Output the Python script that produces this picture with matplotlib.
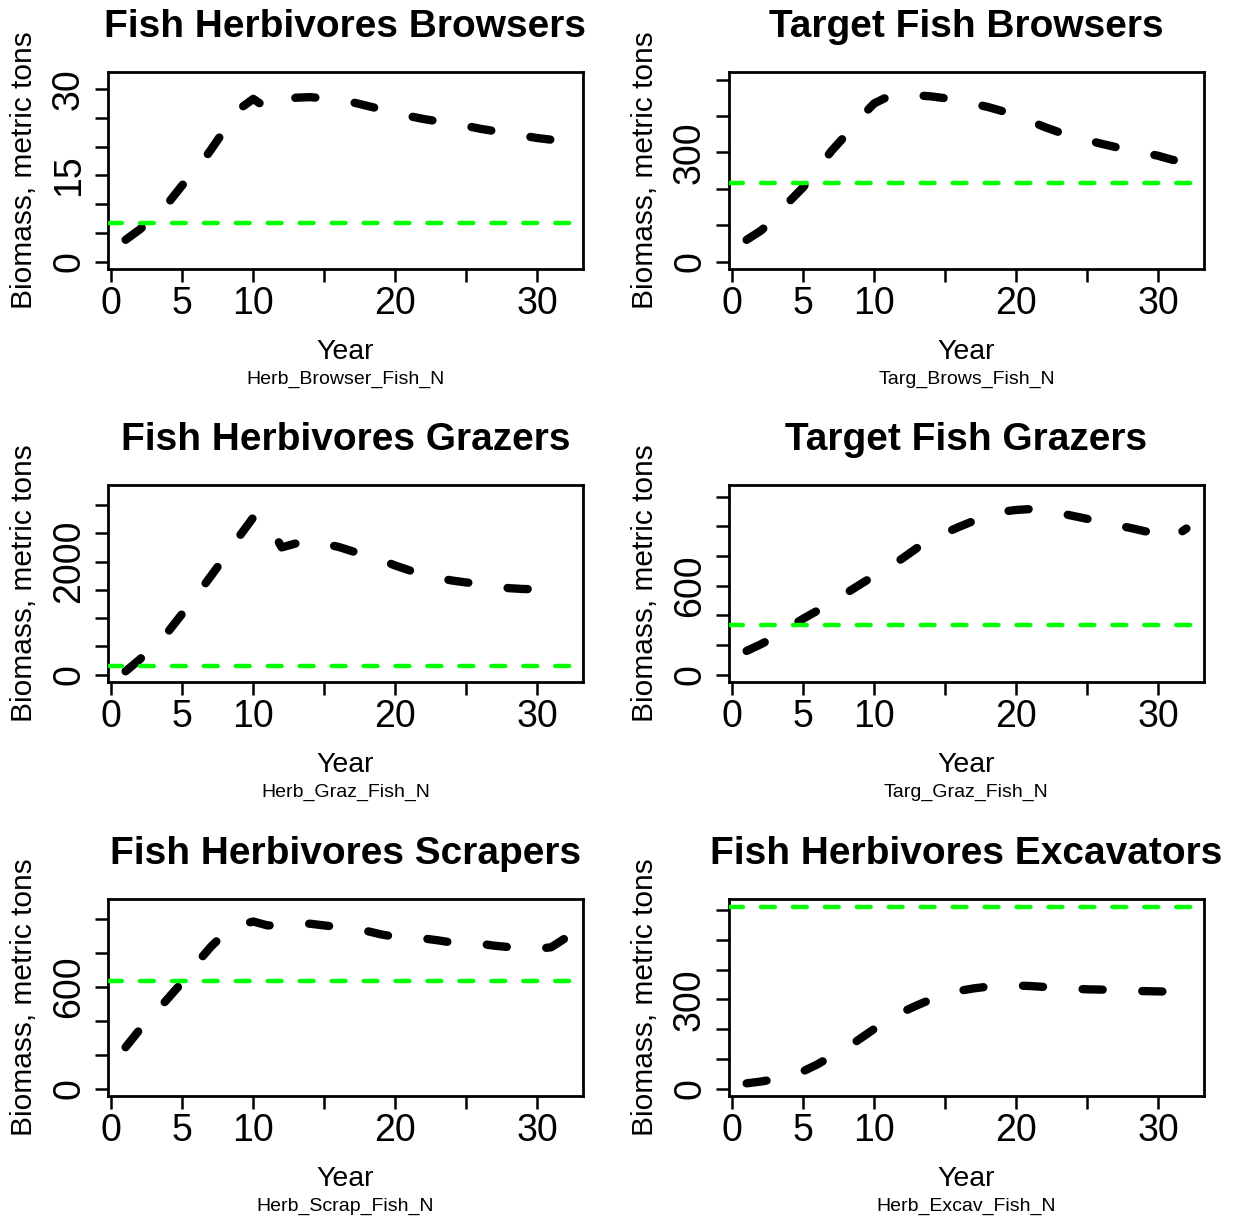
import matplotlib
matplotlib.use("Agg")
import matplotlib.pyplot as plt
import matplotlib.transforms as mtransforms

plt.rcParams['font.family'] = ['Liberation Sans', 'DejaVu Sans']
plt.rcParams['lines.scale_dashes'] = False

# ---------------- data ----------------
years = list(range(1, 33))

herb_browser = [3.8, 5.6, 7.8, 10.2, 13.3, 16.0, 19.4, 23.0, 26.5, 28.3, 26.6, 27.8,
                28.5, 28.6, 28.4, 28.1, 27.7, 27.1, 26.5, 26.0, 25.3, 24.8, 24.4, 24.0,
                23.6, 23.1, 22.7, 22.3, 21.9, 21.5, 21.2, 20.9]
targ_brows = [60, 85, 118, 165, 205, 255, 305, 348, 395, 435, 454, 458, 457, 454, 449, 442,
              434, 425, 414, 400, 386, 370, 356, 344, 334, 324, 315, 307, 299, 291, 280, 272]
herb_graz = [60, 270, 520, 760, 1080, 1400, 1740, 2080, 2440, 2780, 2700, 2250, 2320, 2370,
             2310, 2260, 2180, 2110, 2030, 1930, 1845, 1765, 1710, 1665, 1630, 1605, 1570,
             1530, 1515, 1510, 1460, 1360]
targ_graz = [160, 205, 255, 320, 378, 432, 490, 548, 608, 667, 720, 785, 853, 905, 955, 997,
             1036, 1068, 1098, 1110, 1116, 1105, 1090, 1070, 1050, 1030, 1008, 990, 968, 950,
             920, 985]
herb_scrap = [245, 350, 440, 535, 630, 740, 838, 920, 968, 988, 965, 965, 975, 975, 965, 955,
              945, 932, 912, 898, 893, 888, 877, 864, 860, 857, 845, 837, 832, 826, 836, 890]
herb_excav = [18, 24, 32, 45, 59, 82, 110, 135, 168, 201, 232, 258, 280, 300, 318, 329, 337,
              343, 346, 347, 345, 342, 339, 336, 334, 333, 331, 329, 328, 327, 326, 325]

ref_levels = [6.7, 215, 145, 338, 635, 611]

titles = ["Fish Herbivores Browsers", "Target Fish Browsers",
          "Fish Herbivores Grazers", "Target Fish Grazers",
          "Fish Herbivores Scrapers", "Fish Herbivores Excavators"]
subtitles = ["Herb_Browser_Fish_N", "Targ_Brows_Fish_N",
             "Herb_Graz_Fish_N", "Targ_Graz_Fish_N",
             "Herb_Scrap_Fish_N", "Herb_Excav_Fish_N"]

series = [herb_browser, targ_brows, herb_graz, targ_graz, herb_scrap, herb_excav]

y_ticks = [[0, 5, 10, 15, 20, 25, 30],
           [0, 100, 200, 300, 400, 500],
           [0, 500, 1000, 1500, 2000, 2500, 3000],
           [0, 200, 400, 600, 800, 1000, 1200],
           [0, 200, 400, 600, 800, 1000],
           [0, 100, 200, 300, 400, 500, 600]]
y_labeled = [[0, 15, 30], [0, 300], [0, 2000], [0, 600], [0, 600], [0, 300]]
y_top = [31.7, 501, 3224, 1229, 1078, 613]

x_ticks = [0, 5, 10, 15, 20, 25, 30]
x_labeled = [0, 5, 10, 20, 30]

# ---------------- layout ----------------
W, H = 1234, 1220
DPI = 100
fig = plt.figure(figsize=(W / DPI, H / DPI), dpi=DPI)
fig.patch.set_facecolor('white')

col_left = [108, 729]
ax_w = 475
row_top = [72, 485, 899]
ax_h = 197

def fx(px):
    return px / W

def fy(py):
    return 1 - py / H

for i in range(6):
    r, c = divmod(i, 2)
    left = col_left[c]
    top = row_top[r]
    ax = fig.add_axes([fx(left), fy(top + ax_h), ax_w / W, ax_h / H])

    ax.plot(years, series[i], color='black', linewidth=6.0,
            dashes=(14.5, 28.5), dash_capstyle='round', solid_capstyle='round',
            zorder=2)
    ax.axhline(ref_levels[i], color='#00ff00', linewidth=3.2,
               dashes=(10, 13), dash_capstyle='round', zorder=3)

    ax.set_xlim(1 - 0.04 * 31, 32 + 0.04 * 31)
    ax.set_ylim(-0.04 * y_top[i], 1.04 * y_top[i])

    ax.set_xticks(x_ticks)
    ax.set_xticklabels([str(t) if t in x_labeled else '' for t in x_ticks])
    ax.set_yticks(y_ticks[i])
    ax.set_yticklabels(['' for t in y_ticks[i]])

    ax.tick_params(axis='both', direction='out', length=9.5, width=1.8,
                   labelsize=27, color='black')
    ax.tick_params(axis='x', pad=3)
    for sp in ax.spines.values():
        sp.set_linewidth(2.0)
        sp.set_color('black')

    # y tick labels, parallel to the axis (R style), only the non-overlapping ones
    ytrans = mtransforms.blended_transform_factory(ax.transAxes, ax.transData) + \
        mtransforms.ScaledTranslation(-29 / DPI, 0, fig.dpi_scale_trans)
    for t in y_labeled[i]:
        ax.text(0, t, str(t), transform=ytrans, rotation=90, rotation_mode='anchor',
                ha='center', va='baseline', fontsize=27, clip_on=False)

    cx = left + ax_w / 2
    fig.text(fx(cx), fy(top - 35), titles[i], ha='center', va='baseline',
             fontsize=28, fontweight='bold')
    fig.text(fx(cx), fy(top + ax_h + 90), "Year", ha='center', va='baseline',
             fontsize=20.5)
    fig.text(fx(cx), fy(top + ax_h + 115), subtitles[i], ha='center', va='baseline',
             fontsize=14)
    fig.text(fx(left - 76), fy(top + ax_h / 2), "Biomass, metric tons",
             ha='center', va='baseline', rotation=90, rotation_mode='anchor',
             fontsize=21.5)

fig.savefig("out.png", dpi=DPI, facecolor='white')
